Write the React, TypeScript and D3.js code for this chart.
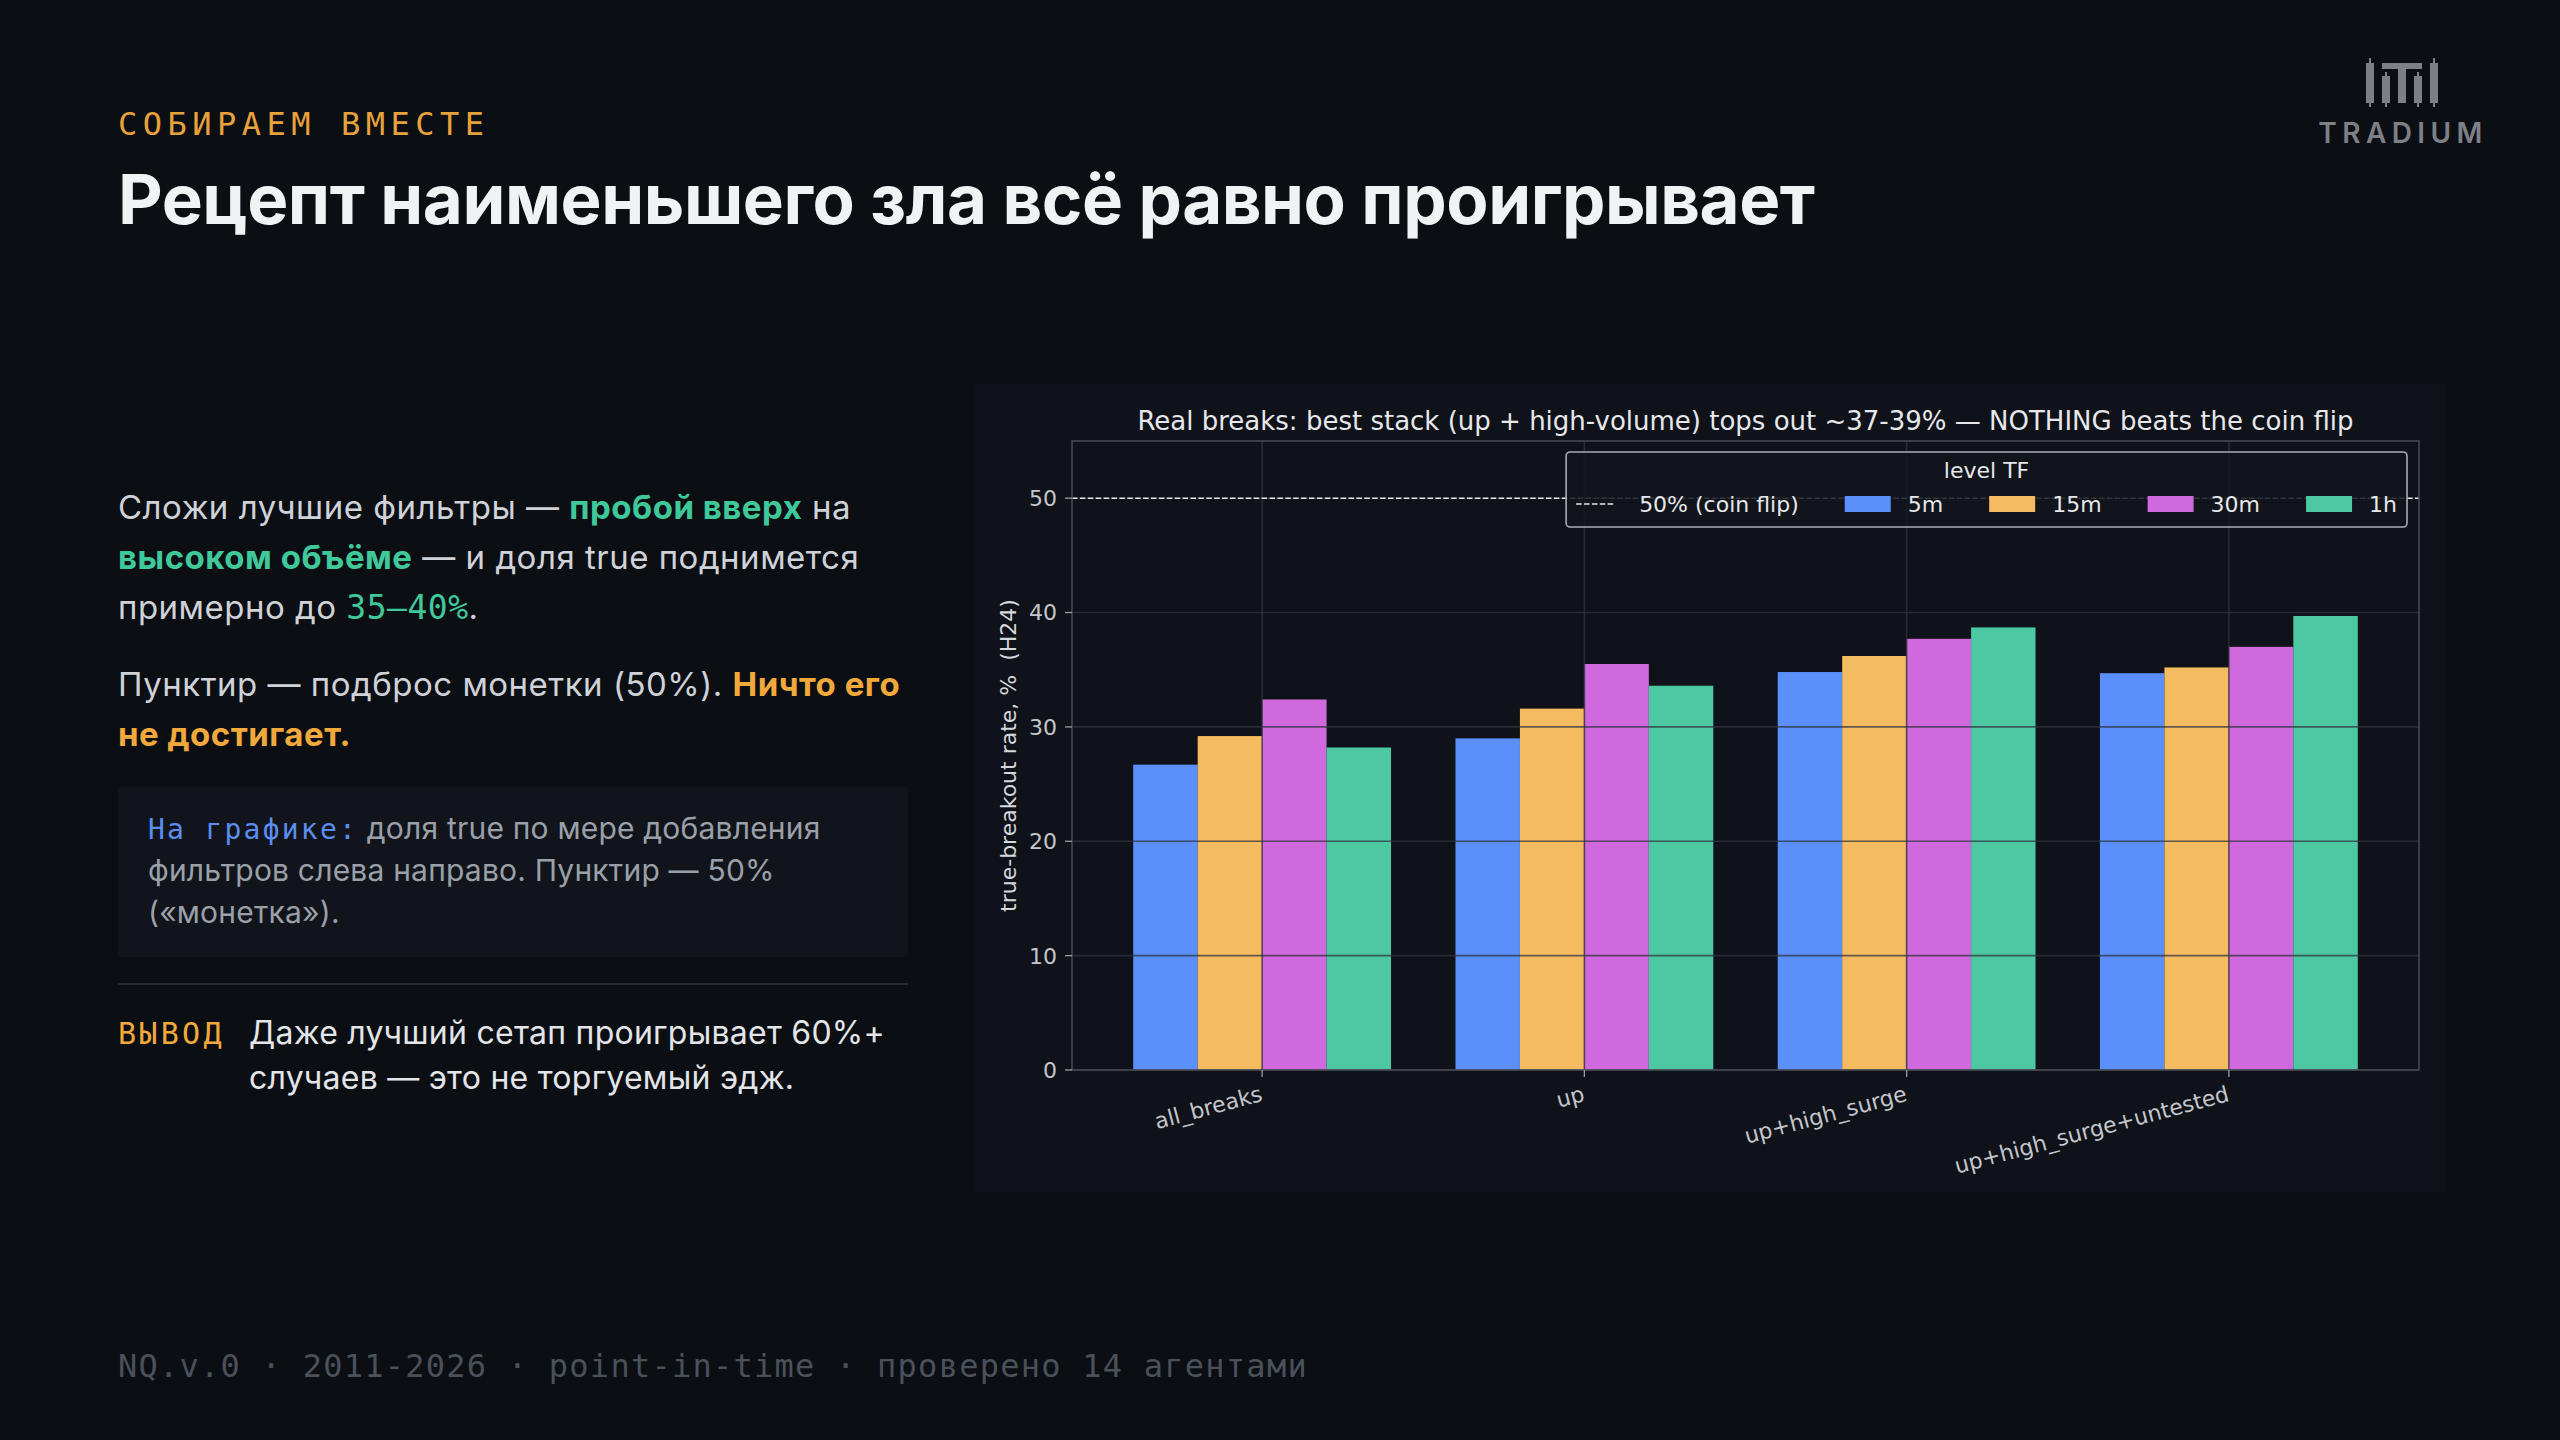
import React, { useEffect, useRef } from 'react';
import * as d3 from 'd3';

// chart data
const categories = ['all_breaks', 'up', 'up+high_surge', 'up+high_surge+untested'];
const seriesNames = ['5m', '15m', '30m', '1h'];
const values5m = [26.7, 29.0, 34.8, 34.7];
const values15m = [29.2, 31.6, 36.2, 35.2];
const values30m = [32.4, 35.5, 37.7, 37.0];
const values1h = [28.2, 33.6, 38.7, 39.7];
const yTicks = [0, 10, 20, 30, 40, 50];
const coinFlip = 50;
const coinFlipLabel = '50% (coin flip)';
const chartTitle = 'Real breaks: best stack (up + high-volume) tops out ~37-39% — NOTHING beats the coin flip';
const yLabel = 'true-breakout rate, %  (H24)';
const legendTitle = 'level TF';

const seriesColors = ['#5b8ff9', '#f5bb61', '#cf69dd', '#4cc8a3'];

const BG = '#0b0e13';
const PANEL = '#0f1219';
const SANS = 'Inter, "Noto Sans", sans-serif';
const MONO = '"DejaVu Sans Mono", "Liberation Mono", monospace';
const MPL = '"DejaVu Sans", sans-serif';

const panel = { x: 975, y: 384, w: 1470, h: 808 };
const plot = { left: 1072, right: 2419, top: 441, bottom: 1070 };

const Chart: React.FC = () => {
    const ref = useRef<SVGGElement | null>(null);

    useEffect(() => {
        if (!ref.current) return;
        const g = d3.select(ref.current);
        g.selectAll('*').remove();

        const table = [values5m, values15m, values30m, values1h];

        const x = d3.scaleBand<string>()
            .domain(categories)
            .range([plot.left, plot.right])
            .paddingInner(0.2)
            .paddingOuter(0.19);
        const xs = d3.scaleBand<string>()
            .domain(seriesNames)
            .range([0, x.bandwidth()]);
        const y = d3.scaleLinear().domain([0, 55]).range([plot.bottom, plot.top]);

        g.append('rect')
            .attr('x', panel.x).attr('y', panel.y)
            .attr('width', panel.w).attr('height', panel.h)
            .attr('fill', PANEL);

        // bars
        seriesNames.forEach((s, si) => {
            g.append('g')
                .selectAll('rect')
                .data(table[si])
                .enter()
                .append('rect')
                .attr('x', (d, i) => x(categories[i])! + xs(s)!)
                .attr('y', d => y(d))
                .attr('width', xs.bandwidth())
                .attr('height', d => y(0) - y(d))
                .attr('fill', seriesColors[si]);
        });

        // grid (drawn over the bars)
        const grid = g.append('g').attr('stroke', '#30343d').attr('stroke-opacity', 0.75).attr('stroke-width', 1.6);
        grid.selectAll('line.h')
            .data(yTicks)
            .enter()
            .append('line')
            .attr('x1', plot.left).attr('x2', plot.right)
            .attr('y1', d => y(d)).attr('y2', d => y(d));
        grid.selectAll('line.v')
            .data(categories)
            .enter()
            .append('line')
            .attr('x1', d => x(d)! + x.bandwidth() / 2)
            .attr('x2', d => x(d)! + x.bandwidth() / 2)
            .attr('y1', plot.top).attr('y2', plot.bottom);

        // coin flip line
        g.append('line')
            .attr('x1', plot.left).attr('x2', plot.right)
            .attr('y1', y(coinFlip)).attr('y2', y(coinFlip))
            .attr('stroke', '#e4e6ea')
            .attr('stroke-width', 1.6)
            .attr('stroke-dasharray', '5.5,2.4');

        // spines
        g.append('rect')
            .attr('x', plot.left).attr('y', plot.top)
            .attr('width', plot.right - plot.left).attr('height', plot.bottom - plot.top)
            .attr('fill', 'none')
            .attr('stroke', '#474c56')
            .attr('stroke-width', 1.5);

        // y axis ticks
        const yAxis = g.append('g');
        yAxis.selectAll('line')
            .data(yTicks)
            .enter()
            .append('line')
            .attr('x1', plot.left - 7).attr('x2', plot.left)
            .attr('y1', d => y(d)).attr('y2', d => y(d))
            .attr('stroke', '#9a9ea6').attr('stroke-width', 1.3);
        yAxis.selectAll('text')
            .data(yTicks)
            .enter()
            .append('text')
            .attr('x', plot.left - 15)
            .attr('y', d => y(d))
            .attr('dy', '0.36em')
            .attr('text-anchor', 'end')
            .style('font-family', MPL)
            .style('font-size', '22px')
            .style('fill', '#c3c6cc')
            .text(d => d);

        // x axis ticks
        const xAxis = g.append('g');
        xAxis.selectAll('line')
            .data(categories)
            .enter()
            .append('line')
            .attr('x1', d => x(d)! + x.bandwidth() / 2)
            .attr('x2', d => x(d)! + x.bandwidth() / 2)
            .attr('y1', plot.bottom).attr('y2', plot.bottom + 7)
            .attr('stroke', '#9a9ea6').attr('stroke-width', 1.3);
        xAxis.selectAll('text')
            .data(categories)
            .enter()
            .append('text')
            .attr('transform', d => `translate(${x(d)! + x.bandwidth() / 2 - 3},${plot.bottom + 14}) rotate(-15)`)
            .attr('text-anchor', 'end')
            .attr('dy', '0.78em')
            .style('font-family', MPL)
            .style('font-size', '22px')
            .style('fill', '#c3c6cc')
            .text(d => d);

        // y label
        g.append('text')
            .attr('transform', `translate(1016,${(plot.top + plot.bottom) / 2}) rotate(-90)`)
            .attr('text-anchor', 'middle')
            .style('font-family', MPL)
            .style('font-size', '22px')
            .style('white-space', 'pre')
            .style('fill', '#d4d7dc')
            .text(yLabel);

        // title
        g.append('text')
            .attr('x', (plot.left + plot.right) / 2)
            .attr('y', 430)
            .attr('text-anchor', 'middle')
            .style('font-family', MPL)
            .style('font-size', '26px')
            .style('fill', '#e6e8ec')
            .text(chartTitle);

        // legend
        const fs = 22;
        const handleLen = 46;
        const handlePad = 17;
        const colSpace = 46;
        const pad = 10;
        const leg = g.append('g');
        const box = leg.append('rect');
        const items = [{ label: coinFlipLabel, kind: 'line', color: '#e4e6ea' }]
            .concat(seriesNames.map((s, i) => ({ label: s, kind: 'patch', color: seriesColors[i] })));
        const rowY = 504;
        let cx = 0;
        const itemG = leg.append('g');
        items.forEach((it, i) => {
            const t = itemG.append('text')
                .attr('y', rowY)
                .attr('dy', '0.36em')
                .style('font-family', MPL)
                .style('font-size', `${fs}px`)
                .style('fill', '#e6e8ec')
                .text(it.label);
            if (it.kind === 'line') {
                itemG.append('line')
                    .attr('x1', cx).attr('x2', cx + handleLen - 8)
                    .attr('y1', rowY).attr('y2', rowY)
                    .attr('stroke', it.color)
                    .attr('stroke-width', 1.6)
                    .attr('stroke-dasharray', '5.5,2.4');
            } else {
                itemG.append('rect')
                    .attr('x', cx).attr('y', rowY - 8)
                    .attr('width', handleLen).attr('height', 16)
                    .attr('fill', it.color);
            }
            t.attr('x', cx + handleLen + handlePad);
            const w = (t.node() as SVGTextElement).getComputedTextLength();
            cx += handleLen + handlePad + w + (i < items.length - 1 ? colSpace : 0);
        });
        const legW = cx + 2 * pad;
        const legRight = plot.right - 12;
        const legLeft = legRight - legW;
        itemG.attr('transform', `translate(${legLeft + pad},0)`);
        box.attr('x', legLeft).attr('y', 452)
            .attr('width', legW).attr('height', 75)
            .attr('rx', 4)
            .attr('fill', '#12151c')
            .attr('fill-opacity', 0.85)
            .attr('stroke', '#a9adb4')
            .attr('stroke-width', 1.6);
        leg.append('text')
            .attr('x', legLeft + legW / 2)
            .attr('y', 478)
            .attr('text-anchor', 'middle')
            .style('font-family', MPL)
            .style('font-size', `${fs}px`)
            .style('fill', '#e6e8ec')
            .text(legendTitle);
    }, []);

    return <g ref={ref} />;
};

const txt = '#cfd2d8';
const dim = '#9aa0a9';
const green = '#3fc99b';
const orange = '#f2a93b';
const blue = '#5b8def';

const App: React.FC = () => (
    <svg width={2560} height={1440} style={{ position: 'absolute', left: 0, top: 0, display: 'block' }}>
        <rect width={2560} height={1440} fill={BG} />

        <text x={118} y={135} fontFamily={MONO} fontSize={32} letterSpacing={5.5} fill="#e8a23c">СОБИРАЕМ ВМЕСТЕ</text>
        <text x={118} y={224} fontFamily={SANS} fontSize={69} fontWeight={700} letterSpacing={-0.45} fill="#f1f2f4">
            Рецепт наименьшего зла всё равно проигрывает
        </text>

        {/* logo */}
        <g fill="#7d8087" stroke="#7d8087">
            <line x1={2370} x2={2370} y1={58} y2={107} strokeWidth={2} />
            <rect x={2366} y={63} width={8} height={40} stroke="none" />
            <line x1={2386} x2={2386} y1={72} y2={107} strokeWidth={2} />
            <rect x={2382} y={76} width={8} height={27} stroke="none" />
            <rect x={2382} y={63} width={40} height={6} stroke="none" />
            <rect x={2398} y={63} width={8} height={40} stroke="none" />
            <line x1={2418} x2={2418} y1={72} y2={107} strokeWidth={2} />
            <rect x={2414} y={76} width={8} height={27} stroke="none" />
            <line x1={2434} x2={2434} y1={58} y2={107} strokeWidth={2} />
            <rect x={2430} y={63} width={8} height={40} stroke="none" />
        </g>
        <text x={2403} y={143} textAnchor="middle" fontFamily={SANS} fontSize={28} fontWeight={600} letterSpacing={5.4} fill="#7d8087">TRADIUM</text>

        {/* left column */}
        <g fontFamily={SANS} fontSize={33} letterSpacing={0.5} fill={txt}>
            <text x={118} y={519}>Сложи лучшие фильтры — <tspan fill={green} fontWeight={700}>пробой вверх</tspan> на</text>
            <text x={118} y={569}><tspan fill={green} fontWeight={700}>высоком объёме</tspan> — и доля true поднимется</text>
            <text x={118} y={619}>примерно до <tspan fill={green} fontFamily={MONO}>35–40%</tspan>.</text>
            <text x={118} y={696}>Пунктир — подброс монетки (50%). <tspan fill={orange} fontWeight={700}>Ничто его</tspan></text>
            <text x={118} y={746} fill={orange} fontWeight={700}>не достигает.</text>
        </g>
        <rect x={118} y={786} width={790} height={171} rx={4} fill="#11141b" />
        <g fontFamily={SANS} fontSize={30} letterSpacing={0.2} fill={dim}>
            <text x={148} y={839}><tspan fill={blue} fontFamily={MONO} fontSize={28} letterSpacing={2.25}>На графике:</tspan> доля true по мере добавления</text>
            <text x={148} y={881}>фильтров слева направо. Пунктир — 50%</text>
            <text x={148} y={923}>(«монетка»).</text>
        </g>
        <line x1={118} x2={908} y1={984} y2={984} stroke="#262a32" strokeWidth={2} />
        <text x={118} y={1044} fontFamily={MONO} fontSize={30} letterSpacing={3.3} fill={orange}>ВЫВОД</text>
        <g fontFamily={SANS} fontSize={32} letterSpacing={0.25} fill="#e3e5e9">
            <text x={249} y={1044}>Даже лучший сетап проигрывает 60%+</text>
            <text x={249} y={1089}>случаев — это не торгуемый эдж.</text>
        </g>

        <Chart />

        <text x={118} y={1377} fontFamily={MONO} fontSize={32} letterSpacing={1.25} fill="#4b515b">NQ.v.0 · 2011-2026 · point-in-time · проверено 14 агентами</text>
    </svg>
);

export default App;
